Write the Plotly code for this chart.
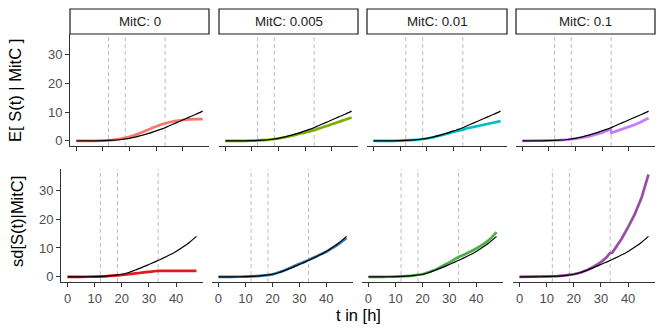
import plotly.graph_objects as go

# time grid shared by most series
t = [0, 5, 10, 14, 17, 20, 22.5, 25, 27.5, 30, 32, 33.3, 35, 37.5, 40, 42.5, 45, 47.5]
# grids for the MitC 0.1 series (they have a kink near t=33.3)
t_top_p = [0, 5, 10, 14, 17, 20, 22.5, 25, 27.5, 30, 32, 33.2, 33.5, 35, 37.5, 40, 42.5, 45, 47.5]
t_bot_p = [0, 5, 10, 14, 17, 20, 22.5, 25, 27.5, 30, 32, 33.2, 34.2, 35, 37.5, 40, 42.5, 45, 47.5]

mitc_labels = ['MitC: 0', 'MitC: 0.005', 'MitC: 0.01', 'MitC: 0.1']
phases = [12.1, 18.4, 33.4]

# reference curves (black)
mean_ref = [0, 0.02, 0.08, 0.25, 0.5, 0.9, 1.4, 2.0, 2.7, 3.5, 4.1, 4.6, 5.3, 6.3, 7.3, 8.3, 9.3, 10.4]
sd_ref = [0, 0.02, 0.08, 0.25, 0.5, 0.9, 1.5, 2.4, 3.3, 4.3, 5.1, 5.65, 6.4, 7.55, 8.8, 10.3, 12.0, 14.0]

# E[S(t) | MitC]
mean_0 = [0, 0.02, 0.1, 0.35, 0.8, 1.4, 2.2, 3.1, 4.1, 5.0, 5.7, 6.1, 6.5, 7.0, 7.3, 7.5, 7.6, 7.6]
mean_005 = [0, 0.02, 0.08, 0.25, 0.5, 0.85, 1.3, 1.8, 2.4, 3.0, 3.4, 3.7, 4.3, 5.0, 5.8, 6.6, 7.4, 8.2]
mean_01 = [0, 0.02, 0.08, 0.25, 0.5, 0.85, 1.3, 1.9, 2.5, 3.2, 3.6, 3.9, 4.4, 4.9, 5.4, 5.9, 6.4, 6.9]
mean_1 = [0, 0.02, 0.08, 0.25, 0.45, 0.75, 1.1, 1.6, 2.2, 2.9, 3.6, 4.2, 2.8, 3.3, 4.0, 4.8, 5.7, 6.8, 8.0]

# sd[S(t) | MitC]
sd_0 = [0, 0.02, 0.08, 0.2, 0.4, 0.65, 0.9, 1.2, 1.5, 1.75, 1.95, 2.05, 2.1, 2.1, 2.1, 2.1, 2.1, 2.1]
sd_005 = [0, 0.02, 0.08, 0.25, 0.5, 0.85, 1.6, 2.5, 3.5, 4.5, 5.2, 5.8, 6.5, 7.6, 8.7, 10.1, 11.7, 13.5]
sd_01 = [0, 0.02, 0.08, 0.25, 0.5, 0.9, 1.7, 2.6, 3.8, 5.0, 6.1, 6.8, 7.5, 8.6, 9.8, 11.2, 13.0, 15.5]
sd_1 = [0, 0.02, 0.08, 0.25, 0.5, 0.9, 1.5, 2.4, 3.6, 5.1, 6.7, 8.1, 8.4, 9.5, 13.0, 17.2, 21.8, 27.5, 35.4]

top_cols = ['#F8766D', '#7CAE00', '#00BFC4', '#C77CFF']
bot_cols = ['#E41A1C', '#377EB8', '#4DAF4A', '#984EA3']

top_x = [t, t, t, t_top_p]
top_y = [mean_0, mean_005, mean_01, mean_1]
bot_x = [t, t, t, t_bot_p]
bot_y = [sd_0, sd_005, sd_01, sd_1]

W, H = 664, 332
top_px = [(70, 209), (219, 358), (367, 507), (516, 655)]
bot_px = [(61, 203), (212, 353), (362, 503), (513, 655)]
top_py = (34, 146)
bot_py = (169, 282)

FONT = 'Liberation Sans'
fig = go.Figure()
layout = dict(width=W, height=H, margin=dict(l=0, r=0, t=0, b=0, autoexpand=False),
              plot_bgcolor='white', paper_bgcolor='white', showlegend=False,
              font=dict(family=FONT))
shapes = []
annotations = []

for row in range(2):
    for i in range(4):
        n = row * 4 + i + 1
        sfx = '' if n == 1 else str(n)
        px = top_px[i] if row == 0 else bot_px[i]
        py = top_py if row == 0 else bot_py
        xs = top_x[i] if row == 0 else bot_x[i]
        ys = top_y[i] if row == 0 else bot_y[i]
        col = top_cols[i] if row == 0 else bot_cols[i]
        ref = mean_ref if row == 0 else sd_ref
        shape = 'linear' if i == 3 else 'spline'

        fig.add_trace(go.Scatter(x=xs, y=ys, mode='lines',
                                 line=dict(color=col, width=2.7, shape=shape, smoothing=0.6),
                                 xaxis='x' + sfx, yaxis='y' + sfx))
        fig.add_trace(go.Scatter(x=t, y=ref, mode='lines',
                                 line=dict(color='black', width=1.2, shape='spline', smoothing=0.6),
                                 xaxis='x' + sfx, yaxis='y' + sfx))

        layout['xaxis' + sfx] = dict(
            domain=[px[0] / W, px[1] / W], anchor='y' + sfx, range=[-2.4, 49.9],
            automargin=False, showgrid=False, zeroline=False, showline=True,
            linecolor='#333333', linewidth=1,
            ticks='outside', ticklen=4, tickcolor='#333333', tickvals=[0, 10, 20, 30, 40],
            showticklabels=(row == 1), tickfont=dict(size=13, color='#4D4D4D', family=FONT))
        layout['yaxis' + sfx] = dict(
            domain=[1 - py[1] / H, 1 - py[0] / H], anchor='x' + sfx, range=[-1.77, 37.3],
            automargin=False, showgrid=False, zeroline=False, showline=(i == 0),
            linecolor='#333333', linewidth=1,
            ticks='outside' if i == 0 else '', ticklen=4, tickcolor='#333333',
            tickvals=[0, 10, 20, 30], showticklabels=(i == 0),
            tickfont=dict(size=13, color='#4D4D4D', family=FONT))

        for v in phases:
            shapes.append(dict(type='line', xref='x' + sfx, yref='y' + sfx + ' domain',
                               x0=v, x1=v, y0=0, y1=1, layer='below',
                               line=dict(color='#BDBDBD', width=1, dash='4px,3px')))

        if row == 0:
            shapes.append(dict(type='rect', xref='paper', yref='paper',
                               x0=px[0] / W, x1=px[1] / W, y0=1 - 34 / H, y1=1 - 9 / H,
                               line=dict(color='#1A1A1A', width=1.2), fillcolor='white'))
            annotations.append(dict(text=mitc_labels[i], xref='paper', yref='paper',
                                    x=(px[0] + px[1]) / 2 / W, y=1 - 21.5 / H,
                                    xanchor='center', yanchor='middle',
                                    showarrow=False, font=dict(size=13.3, color='#1A1A1A')))

annotations.append(dict(text='E[ S(t) | MitC ]', xref='paper', yref='paper', x=15 / W, y=1 - 91 / H,
                        xanchor='center', yanchor='middle',
                        textangle=-90, showarrow=False, font=dict(size=16.5, color='black')))
annotations.append(dict(text='sd[S(t)|MitC]', xref='paper', yref='paper', x=17 / W, y=1 - 222 / H,
                        xanchor='center', yanchor='middle',
                        textangle=-90, showarrow=False, font=dict(size=16.5, color='black')))
annotations.append(dict(text='t in [h]', xref='paper', yref='paper', x=358 / W, y=1 - 315 / H,
                        xanchor='center', yanchor='middle',
                        showarrow=False, font=dict(size=16.5, color='black')))

layout['shapes'] = shapes
layout['annotations'] = annotations
fig.update_layout(**layout)
fig.write_html('out.html', config={'displayModeBar': False},
               post_script="document.body.style.margin='0px';")
